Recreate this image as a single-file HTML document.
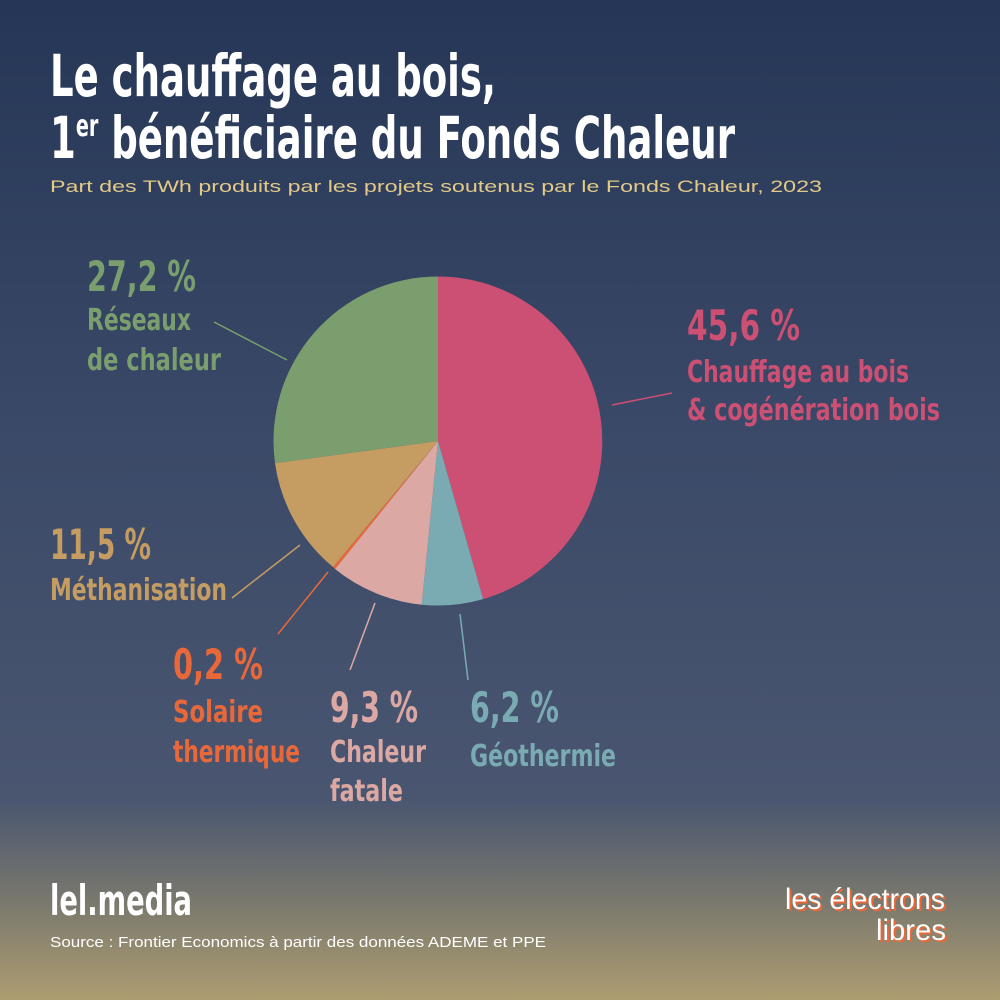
<!DOCTYPE html>
<html><head><meta charset="utf-8"><style>
html,body{margin:0;padding:0;width:1000px;height:1000px;overflow:hidden}
</style></head><body>
<svg width="1000" height="1000" viewBox="0 0 1000 1000" xmlns="http://www.w3.org/2000/svg">
<defs><linearGradient id="bg" x1="0" y1="0" x2="0" y2="1">
<stop offset="0" stop-color="#263656"/>
<stop offset="0.45" stop-color="#3b4a68"/>
<stop offset="0.8" stop-color="#4a5670"/>
<stop offset="0.9" stop-color="#79786e"/>
<stop offset="1" stop-color="#ad9c70"/>
</linearGradient></defs>
<rect width="1000" height="1000" fill="url(#bg)"/>
<g font-family="'Liberation Sans Narrow','DejaVu Sans Condensed','Liberation Sans',sans-serif" font-weight="bold">
<text x="50" y="96" font-size="58" fill="#fff" textLength="446" lengthAdjust="spacingAndGlyphs">Le chauffage au bois,</text>
<text x="50" y="158" font-size="58" fill="#fff" textLength="685" lengthAdjust="spacingAndGlyphs">1<tspan font-size="30" dy="-22">er</tspan><tspan dy="22"> bénéficiaire du Fonds Chaleur</tspan></text>
</g>
<text x="50" y="192" font-family="'Liberation Sans',sans-serif" font-size="17" fill="#e2c987" textLength="772" lengthAdjust="spacingAndGlyphs">Part des TWh produits par les projets soutenus par le Fonds Chaleur, 2023</text>
<g>
<path d="M438,441 L438,276.5 A164.5,164.5 0 0 1 483.2,599.1 Z" fill="#cc4f74"/>
<path d="M438,441 L483.2,599.1 A164.5,164.5 0 0 1 421.7,604.7 Z" fill="#7aabb3"/>
<path d="M438,441 L421.7,604.7 A164.5,164.5 0 0 1 335,569 Z" fill="#dca8a4"/>
<path d="M438,441 L335,569 A164.5,164.5 0 0 1 333,567 Z" fill="#e8683a"/>
<path d="M438,441 L333,567 A164.5,164.5 0 0 1 275,463.1 Z" fill="#c59d62"/>
<path d="M438,441 L275,463.1 A164.5,164.5 0 0 1 438,276.5 Z" fill="#7a9e6e"/>
</g>
<g stroke-width="1.5">
<line x1="287" y1="360" x2="214" y2="322" stroke="#7a9e6e"/>
<line x1="612" y1="405" x2="672" y2="393" stroke="#cc4f74"/>
<line x1="300" y1="545" x2="232" y2="598" stroke="#c59d62"/>
<line x1="328" y1="572" x2="278" y2="634" stroke="#e8683a"/>
<line x1="375" y1="603" x2="350" y2="670" stroke="#dca8a4"/>
<line x1="460" y1="614" x2="468" y2="680" stroke="#7aabb3"/>
</g>
<g font-family="'Liberation Sans Narrow','DejaVu Sans Condensed','Liberation Sans',sans-serif" font-weight="bold">
<g fill="#7a9e6e">
<text x="87" y="291" font-size="42" textLength="109" lengthAdjust="spacingAndGlyphs">27,2 %</text>
<text x="87" y="330" font-size="30" textLength="104" lengthAdjust="spacingAndGlyphs">Réseaux</text>
<text x="87" y="370" font-size="30" textLength="134" lengthAdjust="spacingAndGlyphs">de chaleur</text>
</g>
<g fill="#cc4f74">
<text x="687" y="340" font-size="42" textLength="113" lengthAdjust="spacingAndGlyphs">45,6 %</text>
<text x="687" y="382" font-size="30" textLength="222" lengthAdjust="spacingAndGlyphs">Chauffage au bois</text>
<text x="687" y="420" font-size="30" textLength="253" lengthAdjust="spacingAndGlyphs">&amp; cogénération bois</text>
</g>
<g fill="#c59d62">
<text x="50" y="559" font-size="42" textLength="101" lengthAdjust="spacingAndGlyphs">11,5 %</text>
<text x="50" y="600" font-size="30" textLength="177" lengthAdjust="spacingAndGlyphs">Méthanisation</text>
</g>
<g fill="#e8683a">
<text x="173" y="679" font-size="42" textLength="90" lengthAdjust="spacingAndGlyphs">0,2 %</text>
<text x="173" y="722" font-size="30" textLength="90" lengthAdjust="spacingAndGlyphs">Solaire</text>
<text x="173" y="762" font-size="30" textLength="127" lengthAdjust="spacingAndGlyphs">thermique</text>
</g>
<g fill="#dca8a4">
<text x="330" y="722" font-size="42" textLength="88" lengthAdjust="spacingAndGlyphs">9,3 %</text>
<text x="330" y="762" font-size="30" textLength="96" lengthAdjust="spacingAndGlyphs">Chaleur</text>
<text x="330" y="801" font-size="30" textLength="73" lengthAdjust="spacingAndGlyphs">fatale</text>
</g>
<g fill="#7aabb3">
<text x="470" y="722" font-size="42" textLength="89" lengthAdjust="spacingAndGlyphs">6,2 %</text>
<text x="470" y="766" font-size="30" textLength="146" lengthAdjust="spacingAndGlyphs">Géothermie</text>
</g>
<text x="50" y="915" font-size="42" fill="#fff" textLength="142" lengthAdjust="spacingAndGlyphs">lel.media</text>
</g>
<text x="50" y="947" font-family="'Liberation Sans',sans-serif" font-size="15" fill="#fff" textLength="496" lengthAdjust="spacingAndGlyphs">Source : Frontier Economics à partir des données ADEME et PPE</text>
<g font-family="'Liberation Sans','DejaVu Sans',sans-serif" font-size="30">
<text x="787" y="911" fill="#e8683a" textLength="160" lengthAdjust="spacingAndGlyphs">les électrons</text>
<text x="785" y="909" fill="#fff" textLength="160" lengthAdjust="spacingAndGlyphs">les électrons</text>
<text x="878" y="942" fill="#e8683a" textLength="70" lengthAdjust="spacingAndGlyphs">libres</text>
<text x="876" y="940" fill="#fff" textLength="70" lengthAdjust="spacingAndGlyphs">libres</text>
</g>
</svg>
</body></html>
